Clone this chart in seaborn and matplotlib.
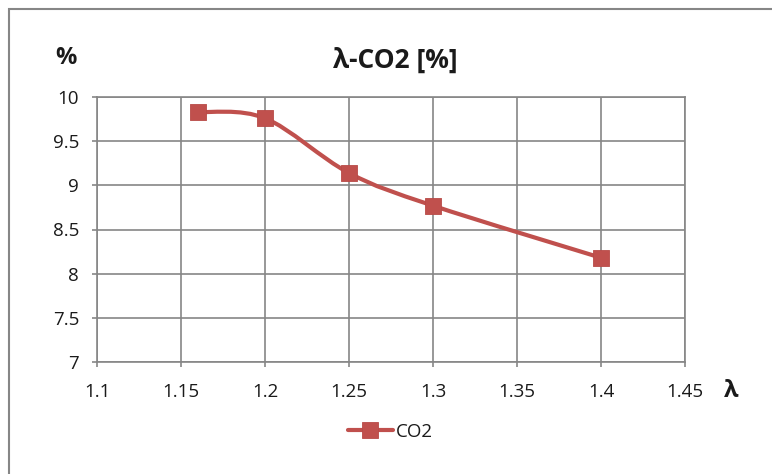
import numpy as np
import pandas as pd
import matplotlib
matplotlib.use("Agg")
import matplotlib.pyplot as plt
from matplotlib.path import Path
from matplotlib.patches import PathPatch, Rectangle
from matplotlib.lines import Line2D
from matplotlib.ticker import FuncFormatter
import seaborn as sns

# Excess-air ratio vs CO2 concentration
lam = [1.16, 1.20, 1.25, 1.30, 1.40]
co2 = [9.83, 9.76, 9.14, 8.77, 8.18]
series_name = "CO2"
title = "λ-CO2 [%]"
y_unit = "%"
x_name = "λ"
x_ticks = [1.1, 1.15, 1.2, 1.25, 1.3, 1.35, 1.4, 1.45]
y_ticks = [7, 7.5, 8, 8.5, 9, 9.5, 10]

sns.set_theme(style="white")
plt.rcParams["font.family"] = ["Open Sans", "DejaVu Sans"]

df = pd.DataFrame({"lam": lam, "co2": co2})

W, H = 772, 474
fig = plt.figure(figsize=(W / 100, H / 100), dpi=100)
ax = fig.add_axes([97 / W, 1 - 362 / H, (685 - 97) / W, (362 - 97) / H])

red = "#C0504D"
gray = "#868686"
text_col = "#1a1a1a"


def smooth_path(xs, ys):
    """Cardinal-spline style Bezier path through the given points."""
    pts = np.column_stack([xs, ys]).astype(float)
    n = len(pts)
    verts = [pts[0]]
    codes = [Path.MOVETO]
    for i in range(n - 1):
        p0 = pts[max(i - 1, 0)]
        p1 = pts[i]
        p2 = pts[i + 1]
        p3 = pts[min(i + 2, n - 1)]
        c1 = p1 + (p2 - p0) / 6
        c2 = p2 - (p3 - p1) / 6
        verts += [c1, c2, p2]
        codes += [Path.CURVE4] * 3
    return Path(verts, codes)


# smoothed connecting line
curve = PathPatch(smooth_path(df["lam"], df["co2"]), facecolor="none",
                  edgecolor=red, linewidth=3.0, capstyle="round",
                  joinstyle="round", zorder=3)
ax.add_patch(curve)

# square markers
sns.scatterplot(data=df, x="lam", y="co2", marker="s", s=135, color=red,
                edgecolor="#B84A47", linewidth=0.6, zorder=4, ax=ax,
                legend=False)

ax.set_xlim(x_ticks[0], x_ticks[-1])
ax.set_ylim(y_ticks[0], y_ticks[-1])
ax.set_xticks(x_ticks)
ax.set_yticks(y_ticks)
ax.xaxis.set_major_formatter(FuncFormatter(lambda v, p: f"{v:g}"))
ax.yaxis.set_major_formatter(FuncFormatter(lambda v, p: f"{v:g}"))
ax.set_xlabel("")
ax.set_ylabel("")

ax.grid(True, color=gray, linewidth=1.2)
ax.set_axisbelow(True)
for sp in ax.spines.values():
    sp.set_visible(True)
    sp.set_color(gray)
    sp.set_linewidth(1.2)

ax.tick_params(axis="both", direction="out", length=3.8, width=1.2,
               color=gray, labelsize=13.5, labelcolor=text_col)
ax.tick_params(axis="x", pad=11)
ax.tick_params(axis="y", pad=9)
ax.tick_params(bottom=True, left=True)

# titles and axis names
fig.text(395 / W, 1 - 60 / H, title, ha="center", va="center",
         fontsize=19, fontweight="bold", color=text_col)
fig.text(66 / W, 1 - 58 / H, y_unit, ha="center", va="center",
         fontsize=17, fontweight="bold", color=text_col)
fig.text(731 / W, 1 - 391 / H, x_name, ha="center", va="center",
         fontsize=17, fontweight="bold", color=text_col)

# legend
handle = Line2D([], [], color=red, linewidth=3.0, marker="s", markersize=11,
                markeredgecolor="#B84A47", markeredgewidth=0.6)
fig.legend([handle], [series_name], loc="center",
           bbox_to_anchor=(390 / W, 1 - 432 / H), frameon=False,
           fontsize=13.5, handlelength=2.4, handletextpad=0.15,
           labelcolor=text_col)

# chart-area border
fig.patches.append(Rectangle((8.5 / W, -0.5), 1.5, 1.5 - 8.5 / H,
                             transform=fig.transFigure, fill=False,
                             edgecolor=gray, linewidth=1.5, zorder=0))

fig.savefig("out.png", dpi=100)
